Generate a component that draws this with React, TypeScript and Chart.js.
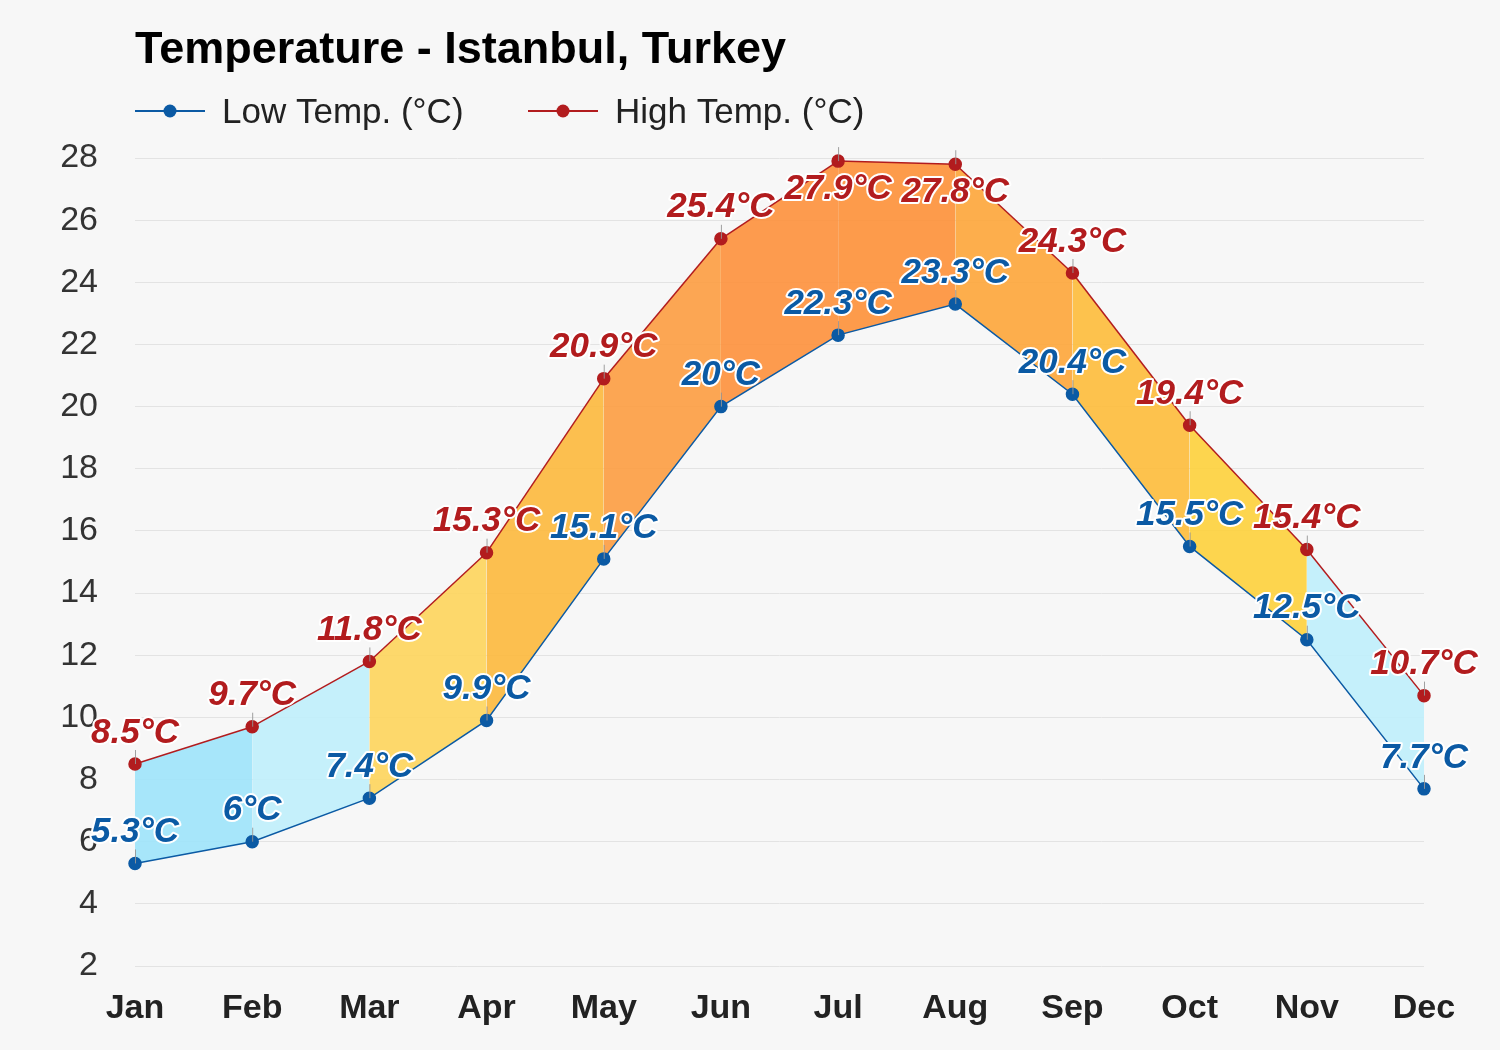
import React, { useEffect, useRef } from "react";
import { Chart, registerables } from "chart.js";

Chart.register(...registerables);

const TITLE = "Temperature - Istanbul, Turkey";
const MONTHS = ["Jan", "Feb", "Mar", "Apr", "May", "Jun", "Jul", "Aug", "Sep", "Oct", "Nov", "Dec"];
const LOW_TEMPS = [5.3, 6, 7.4, 9.9, 15.1, 20, 22.3, 23.3, 20.4, 15.5, 12.5, 7.7];
const HIGH_TEMPS = [8.5, 9.7, 11.8, 15.3, 20.9, 25.4, 27.9, 27.8, 24.3, 19.4, 15.4, 10.7];
const LOW_LABEL = "Low Temp. (°C)";
const HIGH_LABEL = "High Temp. (°C)";
const Y_MIN = 2;
const Y_MAX = 28;
const Y_STEP = 2;

const LOW_COLOR = "#0b5aa4";
const HIGH_COLOR = "#b21c1e";
const SEGMENT_FILLS = [
  "rgba(160,228,250,0.92)",
  "rgba(192,239,251,0.92)",
  "rgba(253,213,94,0.92)",
  "rgba(252,186,64,0.92)",
  "rgba(252,158,68,0.92)",
  "rgba(253,146,63,0.92)",
  "rgba(253,147,60,0.92)",
  "rgba(253,167,61,0.92)",
  "rgba(253,189,62,0.92)",
  "rgba(253,209,63,0.92)",
  "rgba(192,239,251,0.92)",
];

const FONT = "Arial, 'Liberation Sans', Helvetica, sans-serif";

const headerPlugin = {
  id: "header",
  afterDraw(chart: any) {
    const { ctx, chartArea } = chart;
    const left = chartArea.left;
    ctx.save();
    ctx.fillStyle = "#000";
    ctx.font = `bold 45px ${FONT}`;
    ctx.textAlign = "left";
    ctx.textBaseline = "middle";
    ctx.fillText(TITLE, left, 51);

    const items = [
      { text: LOW_LABEL, color: LOW_COLOR, x: left },
      { text: HIGH_LABEL, color: HIGH_COLOR, x: 528 },
    ];
    const y = 111;
    ctx.font = `35px ${FONT}`;
    for (const it of items) {
      ctx.strokeStyle = it.color;
      ctx.lineWidth = 2;
      ctx.beginPath();
      ctx.moveTo(it.x, y);
      ctx.lineTo(it.x + 70, y);
      ctx.stroke();
      ctx.fillStyle = it.color;
      ctx.beginPath();
      ctx.arc(it.x + 35, y, 6.5, 0, Math.PI * 2);
      ctx.fill();
      ctx.fillStyle = "#222";
      ctx.fillText(it.text, it.x + 87, y + 2);
    }
    ctx.restore();
  },
};

const labelPlugin = {
  id: "valueLabels",
  afterDatasetsDraw(chart: any) {
    const { ctx, chartArea } = chart;
    ctx.save();
    chart.data.datasets.forEach((ds: any, di: number) => {
      const meta = chart.getDatasetMeta(di);
      meta.data.forEach((pt: any) => {
        ctx.strokeStyle = "rgba(150,150,150,0.9)";
        ctx.lineWidth = 1;
        ctx.beginPath();
        ctx.moveTo(pt.x + 0.5, pt.y);
        ctx.lineTo(pt.x + 0.5, pt.y - 14);
        ctx.stroke();
      });
    });
    ctx.font = `italic bold 35px ${FONT}`;
    ctx.textAlign = "center";
    ctx.textBaseline = "middle";
    ctx.lineJoin = "round";
    chart.data.datasets.forEach((ds: any, di: number) => {
      const meta = chart.getDatasetMeta(di);
      meta.data.forEach((pt: any, i: number) => {
        const text = `${ds.data[i]}°C`;
        const x = pt.x;
        let y = pt.y - 31;
        if (y - 17 < chartArea.top) y = pt.y + 28;
        ctx.strokeStyle = "#fff";
        ctx.lineWidth = 4;
        ctx.strokeText(text, x, y);
        ctx.fillStyle = ds.borderColor;
        ctx.fillText(text, x, y);
      });
    });
    ctx.restore();
  },
};

export default function App() {
  const canvasRef = useRef<HTMLCanvasElement | null>(null);

  useEffect(() => {
    const canvas = canvasRef.current;
    if (!canvas) return;
    const chart = new Chart(canvas, {
      type: "line",
      data: {
        labels: MONTHS,
        datasets: [
          {
            label: LOW_LABEL,
            data: LOW_TEMPS,
            borderColor: LOW_COLOR,
            backgroundColor: LOW_COLOR,
            pointBackgroundColor: LOW_COLOR,
            pointBorderColor: LOW_COLOR,
            pointRadius: 6,
            borderWidth: 1.5,
            tension: 0,
            fill: false,
            clip: false,
          },
          {
            label: HIGH_LABEL,
            data: HIGH_TEMPS,
            borderColor: HIGH_COLOR,
            backgroundColor: HIGH_COLOR,
            pointBackgroundColor: HIGH_COLOR,
            pointBorderColor: HIGH_COLOR,
            pointRadius: 6,
            borderWidth: 1.5,
            tension: 0,
            fill: 0,
            clip: false,
            segment: {
              backgroundColor: (c: any) => SEGMENT_FILLS[c.p0DataIndex],
            },
          } as any,
        ],
      },
      options: {
        animation: false,
        responsive: false,
        devicePixelRatio: 1,
        layout: { padding: { top: 158, right: 76, bottom: 0, left: 0 } },
        plugins: {
          legend: { display: false },
          title: { display: false },
          tooltip: { enabled: false },
        },
        scales: {
          x: {
            grid: { display: false, drawTicks: false },
            border: { display: false },
            ticks: {
              color: "#222",
              font: { family: FONT, size: 34, weight: "bold" },
              padding: 22,
              maxRotation: 0,
              autoSkip: false,
            },
            afterFit: (s: any) => {
              s.height = 84;
            },
          },
          y: {
            min: Y_MIN,
            max: Y_MAX,
            grid: { color: "#e3e3e3", lineWidth: 1, drawTicks: false },
            border: { display: false },
            ticks: {
              stepSize: Y_STEP,
              color: "#333",
              font: { family: FONT, size: 34 },
              padding: 37,
            },
            afterFit: (s: any) => {
              s.width = 135;
            },
          },
        },
      } as any,
      plugins: [labelPlugin, headerPlugin],
    });
    return () => chart.destroy();
  }, []);

  return (
    <div
      style={{
        position: "fixed",
        left: 0,
        top: 0,
        width: 1500,
        height: 1050,
        background: "#f7f7f7",
      }}
    >
      <canvas ref={canvasRef} width={1500} height={1050} style={{ display: "block" }} />
    </div>
  );
}
